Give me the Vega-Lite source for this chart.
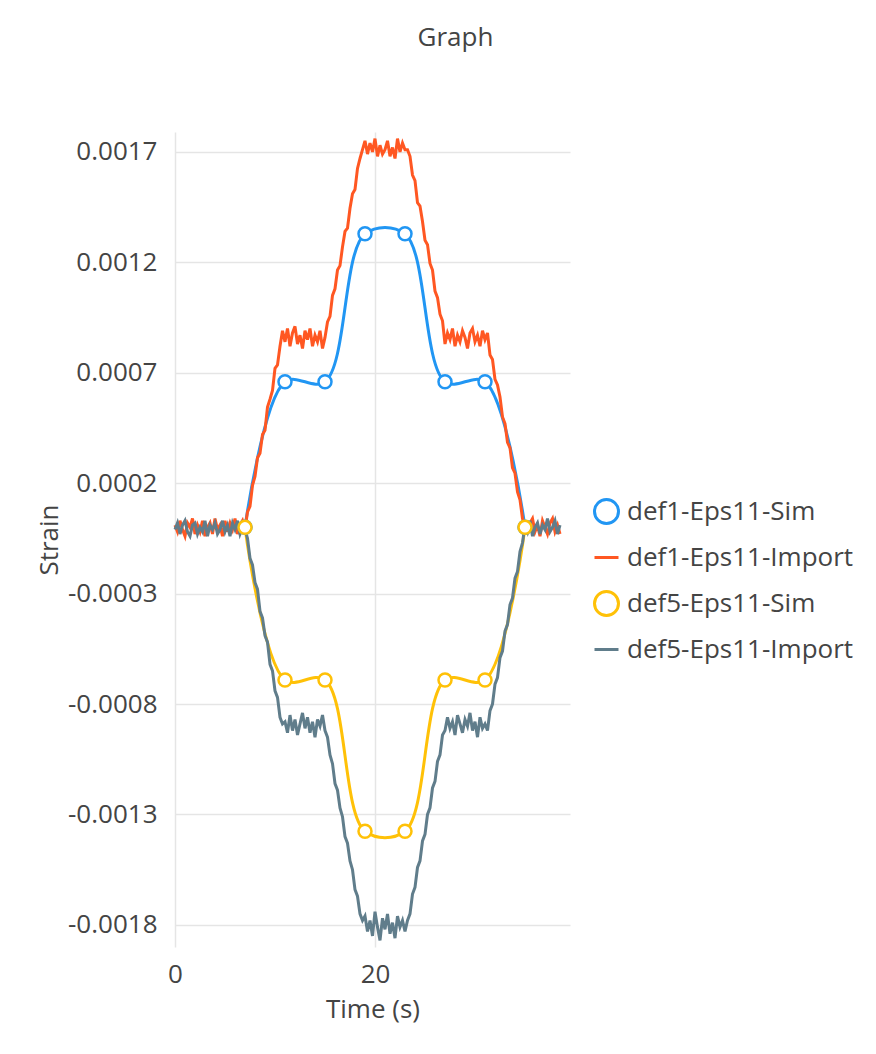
{
"$schema": "https://vega.github.io/schema/vega-lite/v6.json",
"width": 395,
"height": 815,
"autosize": {"type": "none"},
"padding": {"left": 175, "top": 132, "right": 306, "bottom": 107},
"background": "white",
"title": {"text": "Graph", "font": "Open Sans", "fontSize": 26, "fontWeight": "normal", "color": "#444", "dx": 83, "offset": 81},
"config": {
  "font": "Open Sans",
  "view": {"stroke": null},
  "axis": {"labelFont": "Open Sans", "labelFontSize": 26, "labelColor": "#444", "titleFont": "Open Sans", "titleFontSize": 26, "titleFontWeight": "normal", "titleColor": "#444", "domain": false, "ticks": false, "gridColor": "#e5e5e5", "gridWidth": 1.5, "labelFlush": false}
},
"datasets": {
  "sim": [
    {"t":7,"v":0,"s":"def1-Eps11-Sim"},{"t":11,"v":0.000659,"s":"def1-Eps11-Sim"},{"t":15,"v":0.000659,"s":"def1-Eps11-Sim"},{"t":19,"v":0.001329,"s":"def1-Eps11-Sim"},{"t":23,"v":0.001329,"s":"def1-Eps11-Sim"},{"t":27,"v":0.000659,"s":"def1-Eps11-Sim"},{"t":31,"v":0.000659,"s":"def1-Eps11-Sim"},{"t":35,"v":0,"s":"def1-Eps11-Sim"},
    {"t":7,"v":0,"s":"def5-Eps11-Sim"},{"t":11,"v":-0.000691,"s":"def5-Eps11-Sim"},{"t":15,"v":-0.000691,"s":"def5-Eps11-Sim"},{"t":19,"v":-0.001376,"s":"def5-Eps11-Sim"},{"t":23,"v":-0.001376,"s":"def5-Eps11-Sim"},{"t":27,"v":-0.000691,"s":"def5-Eps11-Sim"},{"t":31,"v":-0.000691,"s":"def5-Eps11-Sim"},{"t":35,"v":0,"s":"def5-Eps11-Sim"}
  ],
  "i1": [
    {"t":0,"v":1e-5},{"t":0.25,"v":-2e-5},{"t":0.5,"v":3e-5},{"t":0.75,"v":-1e-5},{"t":1,"v":-4e-5},{"t":1.25,"v":2e-5},{"t":1.5,"v":0},{"t":1.75,"v":4e-5},{"t":2,"v":-3e-5},{"t":2.25,"v":1e-5},{"t":2.5,"v":-2e-5},{"t":2.75,"v":3e-5},{"t":3,"v":-4e-5},{"t":3.25,"v":0},{"t":3.5,"v":2e-5},{"t":3.75,"v":-3e-5},{"t":4,"v":4e-5},{"t":4.25,"v":-1e-5},{"t":4.5,"v":1e-5},{"t":4.75,"v":-4e-5},{"t":5,"v":3e-5},{"t":5.25,"v":-2e-5},{"t":5.5,"v":2e-5},{"t":5.75,"v":-1e-5},{"t":6,"v":4e-5},{"t":6.25,"v":-3e-5},{"t":6.5,"v":1e-5},{"t":6.75,"v":3e-5},{"t":7,"v":-1e-5},
    {"t":7.25,"v":7e-5},{"t":7.5,"v":9.5e-5},{"t":7.75,"v":19e-5},{"t":8,"v":23e-5},{"t":8.25,"v":31.5e-5},{"t":8.5,"v":33.5e-5},{"t":8.75,"v":42e-5},{"t":9,"v":44e-5},{"t":9.25,"v":54.5e-5},{"t":9.5,"v":58e-5},{"t":9.75,"v":62e-5},{"t":10,"v":72e-5},{"t":10.25,"v":73.5e-5},{"t":10.5,"v":82e-5},{"t":10.75,"v":89e-5},
    {"t":11,"v":84e-5},{"t":11.25,"v":90e-5},{"t":11.5,"v":82e-5},{"t":11.75,"v":88e-5},{"t":12,"v":91e-5},{"t":12.25,"v":83e-5},{"t":12.5,"v":87e-5},{"t":12.75,"v":81e-5},{"t":13,"v":89e-5},{"t":13.25,"v":85e-5},{"t":13.5,"v":90e-5},{"t":13.75,"v":82e-5},{"t":14,"v":87e-5},{"t":14.25,"v":84e-5},{"t":14.5,"v":89e-5},{"t":14.75,"v":81e-5},{"t":15,"v":86e-5},
    {"t":15.25,"v":93e-5},{"t":15.5,"v":95.5e-5},{"t":15.75,"v":105e-5},{"t":16,"v":108e-5},{"t":16.25,"v":116.5e-5},{"t":16.5,"v":118.5e-5},{"t":16.75,"v":127e-5},{"t":17,"v":134e-5},{"t":17.25,"v":135.5e-5},{"t":17.5,"v":144.5e-5},{"t":17.75,"v":151e-5},{"t":18,"v":153e-5},{"t":18.25,"v":162.5e-5},{"t":18.5,"v":167e-5},{"t":18.75,"v":171e-5},
    {"t":19,"v":175e-5},{"t":19.25,"v":169e-5},{"t":19.5,"v":174e-5},{"t":19.75,"v":170e-5},{"t":20,"v":176e-5},{"t":20.25,"v":168e-5},{"t":20.5,"v":173e-5},{"t":20.75,"v":169e-5},{"t":21,"v":171e-5},{"t":21.25,"v":175e-5},{"t":21.5,"v":168e-5},{"t":21.75,"v":172e-5},{"t":22,"v":167e-5},{"t":22.25,"v":176e-5},{"t":22.5,"v":170e-5},{"t":22.75,"v":174e-5},{"t":23,"v":171e-5},
    {"t":23.25,"v":171e-5},{"t":23.5,"v":168e-5},{"t":23.75,"v":159.5e-5},{"t":24,"v":157e-5},{"t":24.25,"v":147e-5},{"t":24.5,"v":145.5e-5},{"t":24.75,"v":138.5e-5},{"t":25,"v":130e-5},{"t":25.25,"v":128e-5},{"t":25.5,"v":119.5e-5},{"t":25.75,"v":116.5e-5},{"t":26,"v":107e-5},{"t":26.25,"v":104e-5},{"t":26.5,"v":96.5e-5},{"t":26.75,"v":93.5e-5},
    {"t":27,"v":83e-5},{"t":27.25,"v":88e-5},{"t":27.5,"v":85e-5},{"t":27.75,"v":90e-5},{"t":28,"v":82e-5},{"t":28.25,"v":87e-5},{"t":28.5,"v":84e-5},{"t":28.75,"v":89e-5},{"t":29,"v":86e-5},{"t":29.25,"v":81e-5},{"t":29.5,"v":88e-5},{"t":29.75,"v":90e-5},{"t":30,"v":84e-5},{"t":30.25,"v":87e-5},{"t":30.5,"v":82e-5},{"t":30.75,"v":89e-5},{"t":31,"v":85e-5},
    {"t":31.25,"v":88e-5},{"t":31.5,"v":78e-5},{"t":31.75,"v":76e-5},{"t":32,"v":67e-5},{"t":32.25,"v":64.5e-5},{"t":32.5,"v":59e-5},{"t":32.75,"v":50e-5},{"t":33,"v":47e-5},{"t":33.25,"v":38.5e-5},{"t":33.5,"v":36e-5},{"t":33.75,"v":27e-5},{"t":34,"v":24.5e-5},{"t":34.25,"v":16e-5},{"t":34.5,"v":12.5e-5},{"t":34.75,"v":4e-5},
    {"t":35,"v":1e-5},{"t":35.25,"v":-3e-5},{"t":35.5,"v":2e-5},{"t":35.75,"v":4e-5},{"t":36,"v":-2e-5},{"t":36.25,"v":1e-5},{"t":36.5,"v":-4e-5},{"t":36.75,"v":3e-5},{"t":37,"v":0},{"t":37.25,"v":-3e-5},{"t":37.5,"v":2e-5},{"t":37.75,"v":4e-5},{"t":38,"v":-2e-5},{"t":38.25,"v":1e-5},{"t":38.5,"v":-3e-5}
  ],
  "i5": [
    {"t":0,"v":-1e-5},{"t":0.25,"v":2e-5},{"t":0.5,"v":-3e-5},{"t":0.75,"v":1e-5},{"t":1,"v":3e-5},{"t":1.25,"v":-2e-5},{"t":1.5,"v":-4e-5},{"t":1.75,"v":1e-5},{"t":2,"v":2e-5},{"t":2.25,"v":-3e-5},{"t":2.5,"v":0},{"t":2.75,"v":-2e-5},{"t":3,"v":3e-5},{"t":3.25,"v":-4e-5},{"t":3.5,"v":1e-5},{"t":3.75,"v":-1e-5},{"t":4,"v":2e-5},{"t":4.25,"v":-3e-5},{"t":4.5,"v":-1e-5},{"t":4.75,"v":3e-5},{"t":5,"v":-2e-5},{"t":5.25,"v":1e-5},{"t":5.5,"v":-4e-5},{"t":5.75,"v":2e-5},{"t":6,"v":-1e-5},{"t":6.25,"v":3e-5},{"t":6.5,"v":-3e-5},{"t":6.75,"v":0},{"t":7,"v":-1e-5},
    {"t":7.25,"v":-5e-5},{"t":7.5,"v":-14e-5},{"t":7.75,"v":-17e-5},{"t":8,"v":-25e-5},{"t":8.25,"v":-28e-5},{"t":8.5,"v":-38e-5},{"t":8.75,"v":-41e-5},{"t":9,"v":-49e-5},{"t":9.25,"v":-52e-5},{"t":9.5,"v":-62e-5},{"t":9.75,"v":-65e-5},{"t":10,"v":-74e-5},{"t":10.25,"v":-77e-5},{"t":10.5,"v":-86e-5},{"t":10.75,"v":-89e-5},
    {"t":11,"v":-88e-5},{"t":11.25,"v":-93e-5},{"t":11.5,"v":-85e-5},{"t":11.75,"v":-92e-5},{"t":12,"v":-87e-5},{"t":12.25,"v":-94e-5},{"t":12.5,"v":-89e-5},{"t":12.75,"v":-84e-5},{"t":13,"v":-91e-5},{"t":13.25,"v":-86e-5},{"t":13.5,"v":-93e-5},{"t":13.75,"v":-88e-5},{"t":14,"v":-95e-5},{"t":14.25,"v":-87e-5},{"t":14.5,"v":-90e-5},{"t":14.75,"v":-85e-5},{"t":15,"v":-92e-5},
    {"t":15.25,"v":-95e-5},{"t":15.5,"v":-103e-5},{"t":15.75,"v":-107e-5},{"t":16,"v":-116e-5},{"t":16.25,"v":-119e-5},{"t":16.5,"v":-127e-5},{"t":16.75,"v":-131e-5},{"t":17,"v":-140e-5},{"t":17.25,"v":-143e-5},{"t":17.5,"v":-151e-5},{"t":17.75,"v":-155e-5},{"t":18,"v":-164e-5},{"t":18.25,"v":-167e-5},{"t":18.5,"v":-175e-5},{"t":18.75,"v":-178e-5},
    {"t":19,"v":-176e-5},{"t":19.25,"v":-183e-5},{"t":19.5,"v":-178e-5},{"t":19.75,"v":-185e-5},{"t":20,"v":-174e-5},{"t":20.25,"v":-181e-5},{"t":20.5,"v":-187e-5},{"t":20.75,"v":-177e-5},{"t":21,"v":-182e-5},{"t":21.25,"v":-175e-5},{"t":21.5,"v":-184e-5},{"t":21.75,"v":-179e-5},{"t":22,"v":-186e-5},{"t":22.25,"v":-176e-5},{"t":22.5,"v":-181e-5},{"t":22.75,"v":-178e-5},{"t":23,"v":-183e-5},
    {"t":23.25,"v":-178e-5},{"t":23.5,"v":-175e-5},{"t":23.75,"v":-166e-5},{"t":24,"v":-163e-5},{"t":24.25,"v":-154e-5},{"t":24.5,"v":-151e-5},{"t":24.75,"v":-142e-5},{"t":25,"v":-139e-5},{"t":25.25,"v":-130e-5},{"t":25.5,"v":-127e-5},{"t":25.75,"v":-118e-5},{"t":26,"v":-115e-5},{"t":26.25,"v":-106e-5},{"t":26.5,"v":-103e-5},{"t":26.75,"v":-94e-5},
    {"t":27,"v":-92e-5},{"t":27.25,"v":-86e-5},{"t":27.5,"v":-91e-5},{"t":27.75,"v":-88e-5},{"t":28,"v":-94e-5},{"t":28.25,"v":-85e-5},{"t":28.5,"v":-89e-5},{"t":28.75,"v":-93e-5},{"t":29,"v":-87e-5},{"t":29.25,"v":-90e-5},{"t":29.5,"v":-84e-5},{"t":29.75,"v":-92e-5},{"t":30,"v":-88e-5},{"t":30.25,"v":-95e-5},{"t":30.5,"v":-86e-5},{"t":30.75,"v":-91e-5},{"t":31,"v":-89e-5},
    {"t":31.25,"v":-92e-5},{"t":31.5,"v":-83e-5},{"t":31.75,"v":-80e-5},{"t":32,"v":-71e-5},{"t":32.25,"v":-68e-5},{"t":32.5,"v":-59e-5},{"t":32.75,"v":-56e-5},{"t":33,"v":-47e-5},{"t":33.25,"v":-44e-5},{"t":33.5,"v":-35e-5},{"t":33.75,"v":-32e-5},{"t":34,"v":-23e-5},{"t":34.25,"v":-20e-5},{"t":34.5,"v":-11e-5},{"t":34.75,"v":-7e-5},
    {"t":35,"v":1e-5},{"t":35.25,"v":-2e-5},{"t":35.5,"v":3e-5},{"t":35.75,"v":-4e-5},{"t":36,"v":0},{"t":36.25,"v":2e-5},{"t":36.5,"v":-3e-5},{"t":36.75,"v":1e-5},{"t":37,"v":-1e-5},{"t":37.25,"v":4e-5},{"t":37.5,"v":-2e-5},{"t":37.75,"v":0},{"t":38,"v":3e-5},{"t":38.25,"v":-3e-5},{"t":38.5,"v":1e-5}
  ]
},
"layer": [
  {
    "data": {"name": "sim"},
    "mark": {"type": "line", "interpolate": "catmull-rom", "strokeWidth": 3},
    "encoding": {
      "x": {"field": "t", "type": "quantitative", "scale": {"domain": [0, 39.5], "nice": false, "zero": false}, "axis": {"values": [0, 20], "labelPadding": 14, "titlePadding": 9, "title": "Time (s)"}},
      "y": {"field": "v", "type": "quantitative", "scale": {"domain": [-0.0019, 0.00179], "nice": false, "zero": false}, "axis": {"values": [-0.0018, -0.0013, -0.0008, -0.0003, 0.0002, 0.0007, 0.0012, 0.0017], "labelExpr": "replace(format(datum.value, '.4f'), '\u2212', '-')", "labelPadding": 18, "titlePadding": 5, "title": "Strain"}},
      "color": {"field": "s", "type": "nominal",
        "scale": {"domain": ["def1-Eps11-Sim", "def1-Eps11-Import", "def5-Eps11-Sim", "def5-Eps11-Import"], "range": ["#2196F3", "#FF5722", "#FFC107", "#607D8B"]},
        "legend": {"orient": "none", "legendX": 418, "legendY": 366, "title": null, "padding": 0, "labelFont": "Open Sans", "labelFontSize": 26, "labelColor": "#444", "labelLimit": 0, "symbolSize": 576, "symbolStrokeWidth": 3, "symbolOpacity": 1, "rowPadding": 14, "labelOffset": 7,
          "encode": {"symbols": {"update": {"shape": {"signal": "indexof(datum.value, 'Import') >= 0 ? 'stroke' : 'circle'"}, "fill": {"value": "white"}, "strokeWidth": {"value": 3}}}}}}
    }
  },
  {
    "data": {"name": "i1"},
    "mark": {"type": "line", "strokeWidth": 3},
    "encoding": {
      "x": {"field": "t", "type": "quantitative"},
      "y": {"field": "v", "type": "quantitative"},
      "color": {"datum": "def1-Eps11-Import", "type": "nominal"}
    }
  },
  {
    "data": {"name": "i5"},
    "mark": {"type": "line", "strokeWidth": 3},
    "encoding": {
      "x": {"field": "t", "type": "quantitative"},
      "y": {"field": "v", "type": "quantitative"},
      "color": {"datum": "def5-Eps11-Import", "type": "nominal"}
    }
  },
  {
    "data": {"name": "sim"},
    "mark": {"type": "point", "shape": "circle", "filled": false, "fill": "white", "size": 169, "strokeWidth": 2.5, "opacity": 1},
    "encoding": {
      "x": {"field": "t", "type": "quantitative"},
      "y": {"field": "v", "type": "quantitative"},
      "color": {"field": "s", "type": "nominal"}
    }
  }
]
}
